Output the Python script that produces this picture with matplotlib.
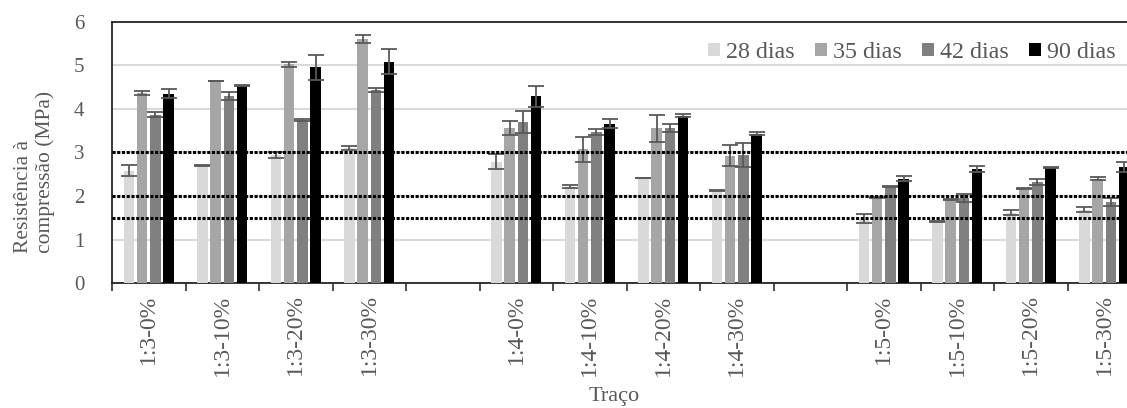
import matplotlib.pyplot as plt
import numpy as np

plt.rcParams['font.family'] = ['Liberation Serif', 'DejaVu Serif']

# categories (blank entries are the gaps between groups)
categorias = ['1:3-0%', '1:3-10%', '1:3-20%', '1:3-30%', '',
              '1:4-0%', '1:4-10%', '1:4-20%', '1:4-30%', '',
              '1:5-0%', '1:5-10%', '1:5-20%', '1:5-30%']

series = ['28 dias', '35 dias', '42 dias', '90 dias']
cores = ['#D9D9D9', '#A6A6A6', '#808080', '#000000']

nan = np.nan
r28 = [2.58, 2.70, 2.95, 3.10, nan, 2.79, 2.22, 2.41, 2.12, nan, 1.48, 1.42, 1.62, 1.69]
r35 = [4.36, 4.64, 5.02, 5.60, nan, 3.56, 3.07, 3.56, 2.93, nan, 1.97, 1.93, 2.18, 2.40]
r42 = [3.87, 4.30, 3.74, 4.44, nan, 3.70, 3.47, 3.57, 2.94, nan, 2.22, 1.96, 2.33, 1.87]
r90 = [4.35, 4.53, 4.95, 5.08, nan, 4.29, 3.66, 3.84, 3.43, nan, 2.40, 2.63, 2.65, 2.67]

e28 = [0.13, 0.01, 0.07, 0.04, nan, 0.165, 0.045, 0.0, 0.01, nan, 0.10, 0.01, 0.06, 0.05]
e35 = [0.05, 0.01, 0.05, 0.10, nan, 0.17, 0.29, 0.31, 0.25, nan, 0.01, 0.01, 0.01, 0.04]
e42 = [0.065, 0.09, 0.02, 0.05, nan, 0.26, 0.07, 0.095, 0.27, nan, 0.01, 0.09, 0.065, 0.09]
e90 = [0.10, 0.01, 0.28, 0.29, nan, 0.24, 0.10, 0.035, 0.04, nan, 0.05, 0.07, 0.01, 0.11]

limites = [3.0, 2.0, 1.5]

valores = [r28, r35, r42, r90]
erros = [e28, e35, e42, e90]

fig = plt.figure(figsize=(11.27, 4.08), dpi=100)
# plot area runs past the right edge of the picture, as in the original
ax = fig.add_axes([112/1127, 1 - 283.3/408, 1029/1127, (283.3 - 21.7)/408])

x = np.arange(len(categorias)) + 0.5
passo = 0.18
largura = 0.143
for i in range(4):
    pos = x + (i - 1.5) * passo
    ax.bar(pos, valores[i], largura, color=cores[i], label=series[i], zorder=3)
    ax.errorbar(pos, valores[i], yerr=erros[i], fmt='none', ecolor='#595959',
                elinewidth=1.3, capsize=5.5, capthick=1.3, zorder=4)

for v in limites:
    ax.axhline(v, color='black', lw=2.2, ls=(0, (1.0, 0.55)), zorder=5)

ax.set_xlim(0, len(categorias))
ax.set_ylim(0, 6)
ax.set_yticks(range(7))
ax.yaxis.grid(True, color='#D9D9D9', lw=1.5, zorder=0)
ax.tick_params(axis='y', length=0, pad=20, labelsize=15, labelcolor='#595959')

ax.set_xticks(np.arange(len(categorias) + 1))
ax.set_xticklabels([])
ax.set_xticks(x, minor=True)
ax.set_xticklabels(categorias, minor=True, rotation=90)
ax.tick_params(axis='x', which='major', length=6, width=1.3, color='#404040', direction='out')
ax.tick_params(axis='x', which='minor', length=0, pad=8, labelsize=17, labelcolor='#595959')

for lado in ['left', 'bottom', 'top']:
    ax.spines[lado].set_color('#262626')
    ax.spines[lado].set_linewidth(1.3)
ax.spines['right'].set_visible(False)

fig.text(34.5/1127, 1 - 171.5/408, 'Resistência à\ncompressão (MPa)', rotation=90,
         ha='center', va='center', multialignment='left', fontsize=15.5,
         color='#595959', linespacing=1.15)
fig.text(614/1127, 1 - 397/408, 'Traço', ha='center', va='center', fontsize=16, color='#595959')

leg = fig.legend(loc='upper right', bbox_to_anchor=(1116/1127, 1 - 42/408), ncol=4,
                 frameon=False, fontsize=17.3, handlelength=0.5, handleheight=0.5,
                 handletextpad=0.25, columnspacing=0.85, borderaxespad=0, borderpad=0)
for t in leg.get_texts():
    t.set_color('#595959')

fig.savefig('out.png', dpi=100)
